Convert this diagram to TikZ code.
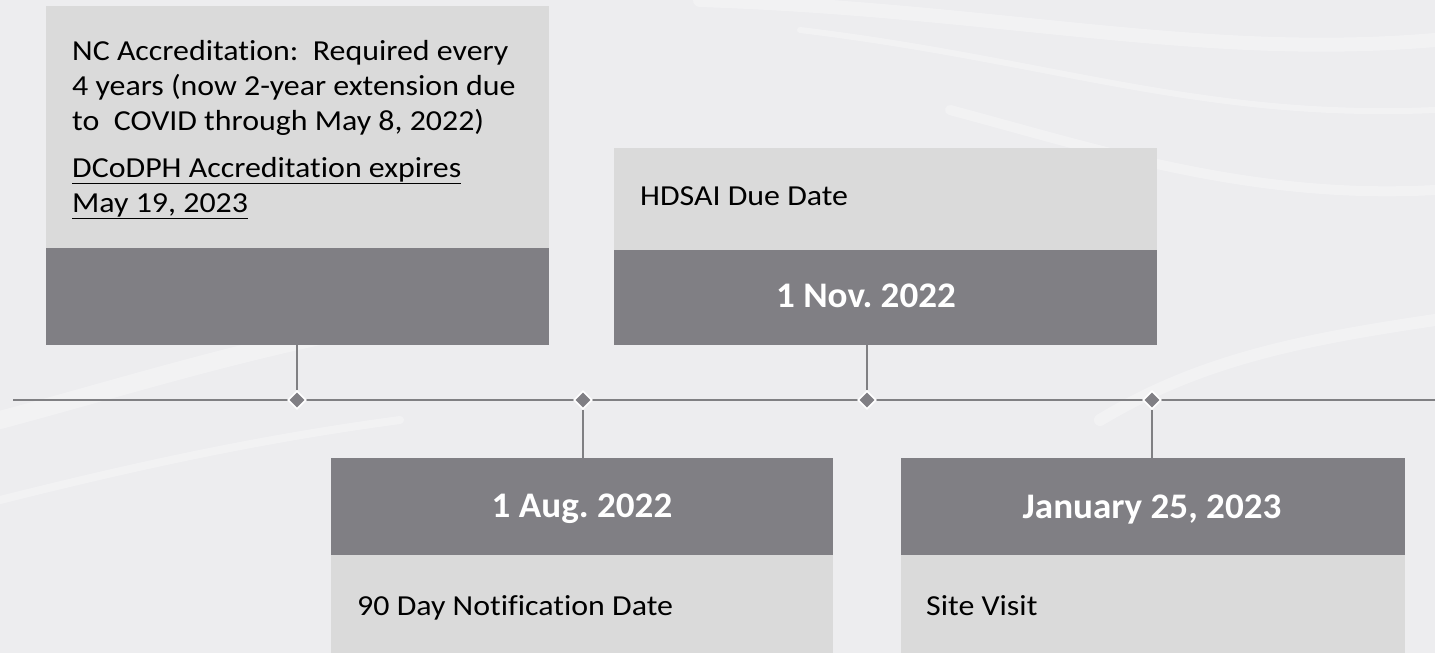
\documentclass[tikz,border=0pt]{standalone}
\usepackage{fontspec}
\setmainfont{Carlito}[Ligatures=NoCommon]
\newfontfamily\bodyfont{Carlito}[Ligatures=NoCommon, FakeStretch=1.1]
\newfontfamily\datefont{Carlito}[Ligatures=NoCommon, FakeStretch=1.03]
\usetikzlibrary{shapes.geometric}
\frenchspacing
\definecolor{bgc}{HTML}{EDEDEF}
\definecolor{darkbox}{HTML}{807F84}
\definecolor{lightbox}{HTML}{D9D9D9}
\definecolor{linec}{HTML}{808083}
\tikzset{
  lightpanel/.style={fill=lightbox, fill opacity=0.93, draw=none, inner sep=0pt, anchor=north west},
  darkpanel/.style={fill=darkbox, draw=none, inner sep=0pt, anchor=north west},
  bodytext/.style={anchor=base west, inner sep=0pt, font=\bodyfont\fontsize{29}{35}\selectfont, text=black, align=left},
  datetext/.style={anchor=base, inner sep=0pt, font=\datefont\fontsize{36}{40}\selectfont\bfseries, text=white},
  milestone/.style={diamond, fill=darkbox, draw=white, line width=1.6pt, minimum size=18pt, inner sep=0pt},
  timeline/.style={draw=linec, line width=2.6pt},
  stem/.style={draw=linec, line width=1.4pt}
}
\begin{document}
\begin{tikzpicture}[x=1pt,y=-1pt]
\useasboundingbox (0,0) rectangle (1435,653);
% background
\fill[bgc] (0,0) rectangle (1435,653);
\begin{scope}[white, opacity=0.3, line cap=round]
  \draw[line width=14pt] (1435,40) .. controls (1200,60) and (1000,10) .. (700,0);
  \draw[line width=6pt] (1435,110) .. controls (1200,120) and (1050,60) .. (800,30);
  \draw[line width=10pt] (1435,190) .. controls (1250,200) and (1100,150) .. (950,110);
  \draw[line width=18pt] (0,420) .. controls (150,380) and (300,330) .. (500,305);
  \draw[line width=8pt] (0,500) .. controls (120,470) and (250,440) .. (400,420);
  \draw[line width=12pt] (1435,320) .. controls (1300,340) and (1200,360) .. (1100,420);
\end{scope}
% boxes
\node[lightpanel, minimum width=503pt, minimum height=242pt] (Atop) at (46,6) {};
\node[darkpanel, minimum width=503pt, minimum height=97pt] (Abot) at (46,248) {};
\node[lightpanel, minimum width=543pt, minimum height=102pt] (Btop) at (614,148) {};
\node[darkpanel, minimum width=543pt, minimum height=95pt] (Bbot) at (614,250) {};
\node[darkpanel, minimum width=502pt, minimum height=97pt] (Ctop) at (331,458) {};
\node[lightpanel, minimum width=502pt, minimum height=98pt] (Cbot) at (331,555) {};
\node[darkpanel, minimum width=504pt, minimum height=97pt] (Dtop) at (901,458) {};
\node[lightpanel, minimum width=504pt, minimum height=98pt] (Dbot) at (901,555) {};
% texts
\node[bodytext] (Atxt1) at (72,130) {NC Accreditation:\ \ Required every\\4 years (now 2-year extension due\\to\ \ COVID through May 8, 2022)};
\node[bodytext] (Atxt2) at (72,212) {\underline{DCoDPH Accreditation expires}\\\underline{May 19, 2023}};
\node[bodytext] (Btxt) at (640,205) {HDSAI Due Date};
\node[datetext] (Bdate) at (866,307) {1 Nov. 2022};
\node[datetext] (Cdate) at (582,517) {1 Aug. 2022};
\node[bodytext] (Ctxt) at (357,615) {90 Day Notification Date};
\node[datetext] (Ddate) at (1152,518) {January 25, 2023};
\node[bodytext] (Dtxt) at (926,615) {Site Visit};
% timeline
\coordinate (tl) at (13,400);
\coordinate (tr) at (1435,400);
\draw[timeline] (tl) -- (tr);
\node[milestone] (m1) at (297,400) {};
\node[milestone] (m2) at (583,400) {};
\node[milestone] (m3) at (867,400) {};
\node[milestone] (m4) at (1152,400) {};
\draw[stem] (Abot.south -| m1) -- (m1.north);
\draw[stem] (Bbot.south -| m3) -- (m3.north);
\draw[stem] (m2.south) -- (Ctop.north -| m2);
\draw[stem] (m4.south) -- (Dtop.north -| m4);
\end{tikzpicture}
\end{document}
